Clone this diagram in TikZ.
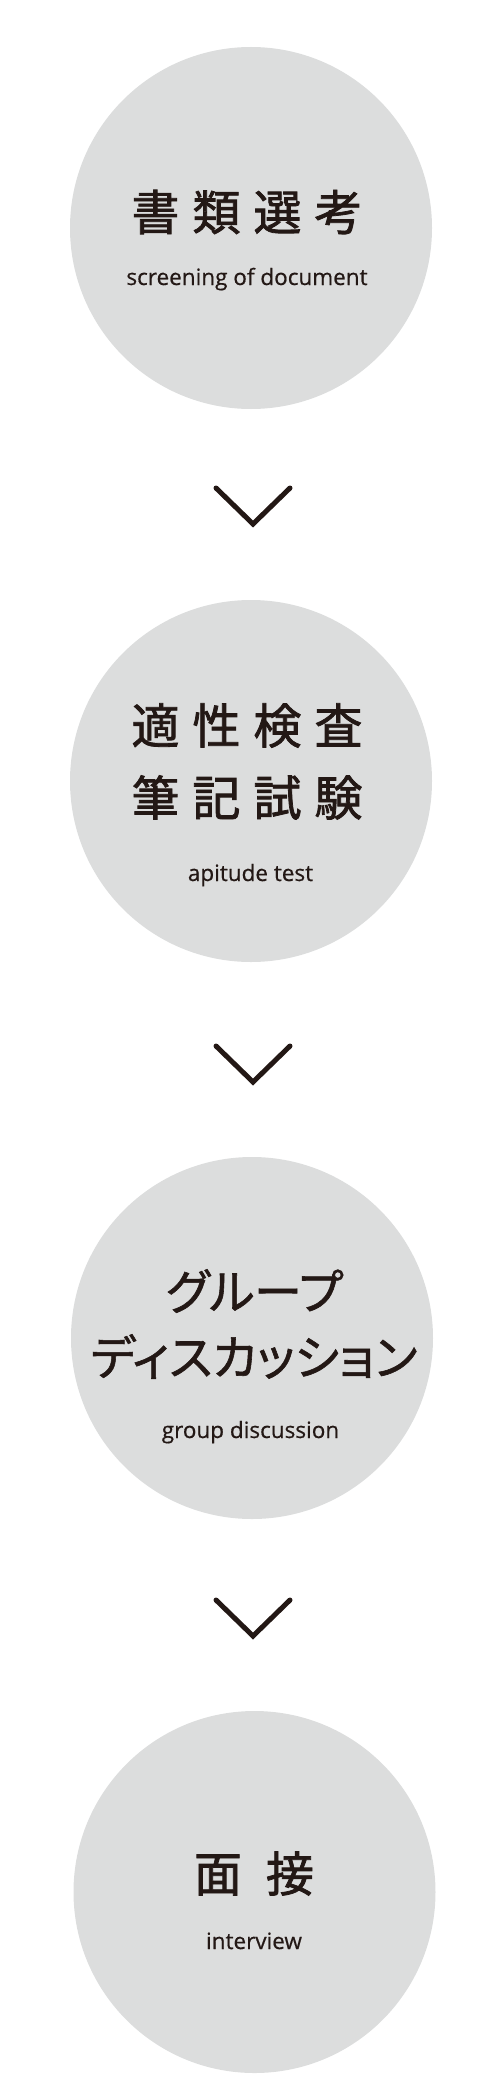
\documentclass[tikz,border=0pt]{standalone}
\usepackage{fontspec}
\setmainfont{Open Sans}
\newfontfamily\enfont{Open Sans}[FakeBold=0.6]
\newfontfamily\jpfont{Noto Sans CJK JP}[FakeBold=1.6]
\newfontfamily\jpkana{Noto Sans CJK JP}[RawFeature=+palt,FakeBold=1.2]
\definecolor{ink}{HTML}{231815}
\definecolor{disc}{HTML}{DCDDDD}
\tikzset{
  stepdisc/.style={circle,fill=disc,minimum size=362pt,inner sep=0pt},
  jptitle/.style={font=\jpfont\fontsize{48pt}{60pt}\selectfont,text=ink,inner sep=0pt},
  jpline/.style={font=\jpkana\fontsize{48pt}{60pt}\selectfont,text=ink,inner sep=0pt},
  entitle/.style={font=\enfont\fontsize{22.5pt}{27pt}\selectfont,text=ink,inner sep=0pt,anchor=base},
  chevron/.style={draw=ink,line width=5pt,line cap=round,line join=miter}
}
\begin{document}
\begin{tikzpicture}[x=1pt,y=-1pt]
\useasboundingbox (0,0) rectangle (500,2100);
\node[stepdisc] (s1) at (251,228) {};
\node[stepdisc] (s2) at (251,781) {};
\node[stepdisc] (s3) at (252,1338) {};
\node[stepdisc] (s4) at (254.5,1892) {};
% step 1
\node[jptitle] (t1) at (247,212) {書\kern13pt類\kern13pt選\kern13pt考};
\node[entitle] (e1) at (247,285) {screening of document};
% step 2
\node[jptitle] (t2a) at (247,725.5) {適\kern13pt性\kern13pt検\kern13pt査};
\node[jptitle] (t2b) at (247,797.5) {筆\kern13pt記\kern13pt試\kern13pt験};
\node[entitle] (e2) at (250.5,881) {apitude test};
% step 3
\node[jpline] (t3a) at (254.5,1291) {グループ};
\node[jpline] (t3b) at (254,1356.5) {ディスカッション};
\node[entitle] (e3) at (250.5,1438) {group discussion};
% step 4
\node[jptitle] (t4) at (254,1873.5) {面\kern24pt接};
\node[entitle] (e4) at (254,1949) {interview};
% arrows
\coordinate (v1l) at (216,488);
\coordinate (v1t) at (253,524);
\coordinate (v1r) at (290,488);
\coordinate (v2l) at (216,1046);
\coordinate (v2t) at (253,1082);
\coordinate (v2r) at (290,1046);
\coordinate (v3l) at (216,1600);
\coordinate (v3t) at (253,1636);
\coordinate (v3r) at (290,1600);
\draw[chevron](v1l)--(v1t)--(v1r);
\draw[chevron](v2l)--(v2t)--(v2r);
\draw[chevron](v3l)--(v3t)--(v3r);
\end{tikzpicture}
\end{document}
